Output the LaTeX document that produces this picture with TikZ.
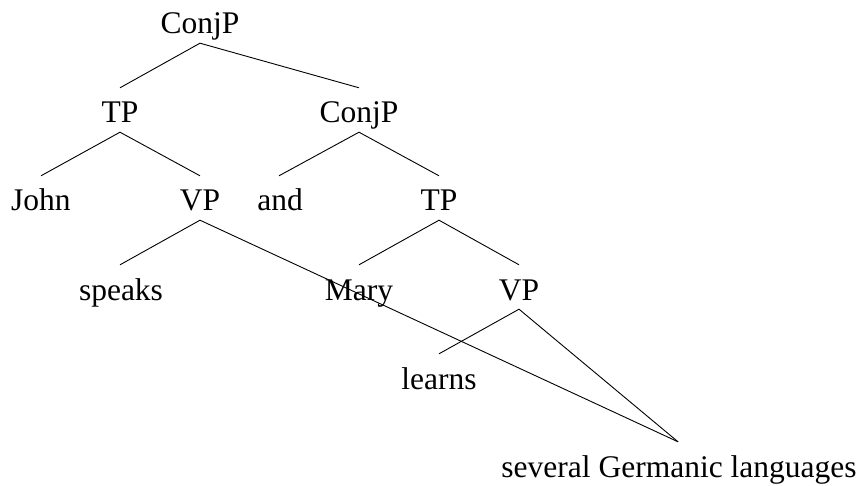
\documentclass[tikz,border=0pt]{standalone}
\usepackage{fontspec}
\setmainfont{Liberation Serif}
\begin{document}
\begin{tikzpicture}[x=1pt,y=-1pt,
  lbl/.style={anchor=base,inner sep=0pt,text height=35pt,text depth=9pt,font=\fontsize{31.5}{38}\selectfont},
  edge/.style={line width=0.9pt}]
\useasboundingbox (0,0) rectangle (861,486);
\node[lbl] (conj1) at (200,34) {ConjP};
\node[lbl] (tp1) at (120,123) {TP};
\node[lbl] (conj2) at (359,123) {ConjP};
\node[lbl] (john) at (41,211) {John};
\node[lbl] (vp1) at (200,211) {VP};
\node[lbl] (and) at (280,211) {and};
\node[lbl] (tp2) at (439,211) {TP};
\node[lbl] (speaks) at (121,300) {speaks};
\node[lbl] (mary) at (359,300) {Mary};
\node[lbl] (vp2) at (519,300) {VP};
\node[lbl] (learns) at (439,389) {learns};
\node[lbl] (sgl) at (679,477) {several Germanic languages};
\draw[edge] (tp1.north) -- (conj1.south) -- (conj2.north);
\draw[edge] (john.north) -- (tp1.south) -- (vp1.north);
\draw[edge] ([xshift=-1pt]and.north) -- (conj2.south) -- (tp2.north);
\draw[edge] ([xshift=-1pt]speaks.north) -- (vp1.south) -- ([xshift=-1pt]sgl.north);
\draw[edge] (mary.north) -- (tp2.south) -- (vp2.north);
\draw[edge] (learns.north) -- (vp2.south) -- ([xshift=-1pt]sgl.north);
\end{tikzpicture}
\end{document}
